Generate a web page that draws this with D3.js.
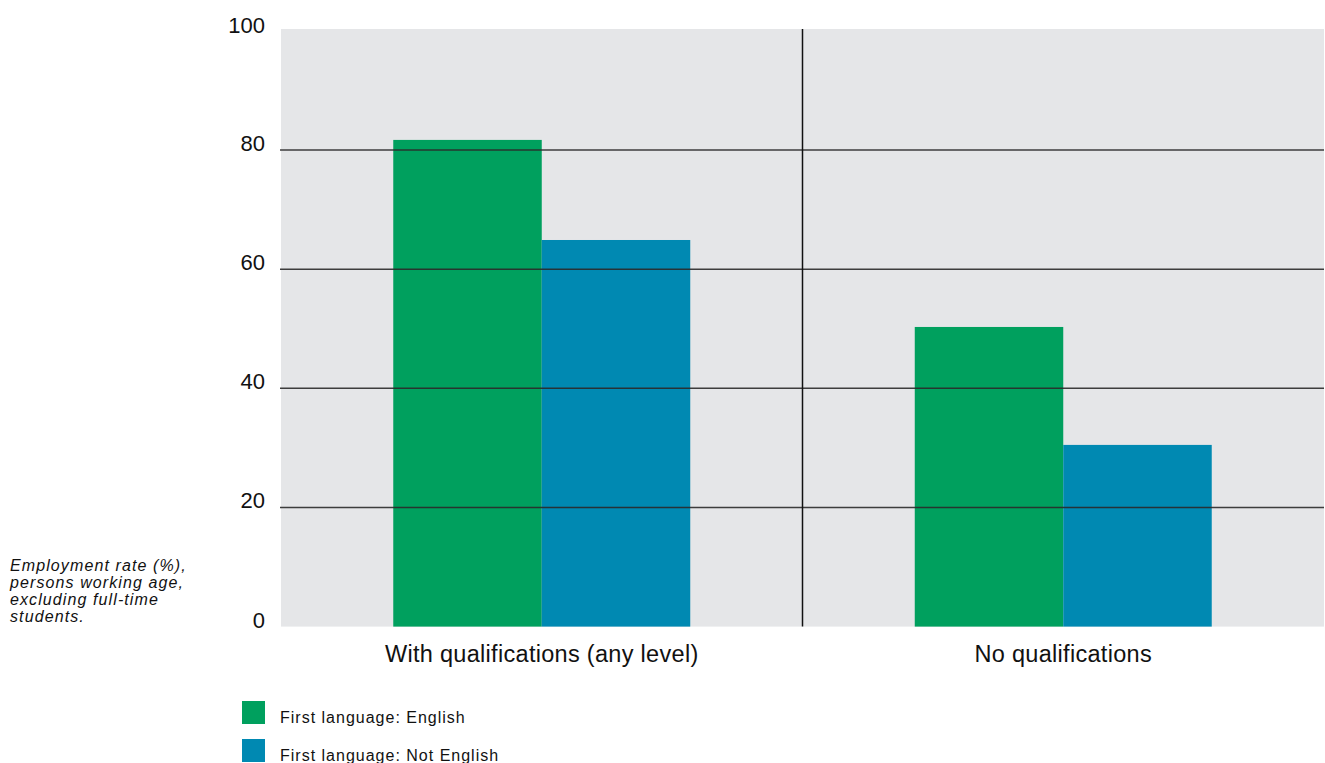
<!DOCTYPE html>
<html>
<head>
<meta charset="utf-8">
<script src="https://cdn.jsdelivr.net/npm/d3@7"></script>
<style>
  html, body { margin: 0; padding: 0; background: #ffffff; }
  svg { display: block; font-family: "Liberation Sans", Arial, Helvetica, sans-serif; }
</style>
</head>
<body>
<svg id="chart" width="1325" height="763"></svg>
<script>
const categories = ["With qualifications (any level)", "No qualifications"];
const seriesNames = ["First language: English", "First language: Not English"];
const englishValues = [81.7, 50.3];
const notEnglishValues = [64.9, 30.5];
const yTicks = [0, 20, 40, 60, 80, 100];
const gridTicks = [20, 40, 60, 80];
const colors = ["#00a05e", "#0089b2"];
const noteLines = ["Employment rate (%),", "persons working age,", "excluding full-time", "students."];

(function () {
const svg = d3.select("#chart");
const plotLeft = 281, plotRight = 1324, plotTop = 30.9, plotBottom = 626.6;

const x0 = d3.scaleBand().domain(categories).range([plotLeft, plotRight]).padding(0);
const x1 = d3.scaleBand().domain(seriesNames).range([0, x0.bandwidth()]).paddingInner(0).paddingOuter(0.756);
const y = d3.scaleLinear().domain([0, 100]).range([plotBottom, plotTop]);

// background
svg.append("rect").attr("x", plotLeft).attr("y", 29).attr("width", plotRight - plotLeft).attr("height", plotBottom - 29).attr("fill", "#e5e6e8");

const data = categories.map((c, i) => ({cat: c, values: [englishValues[i], notEnglishValues[i]]}));

// bars
const groups = svg.append("g").selectAll("g").data(data).join("g")
  .attr("transform", d => `translate(${x0(d.cat)},0)`);
groups.selectAll("rect").data(d => d.values.map((v, j) => ({name: seriesNames[j], v, j}))).join("rect")
  .attr("x", d => x1(d.name))
  .attr("width", x1.bandwidth())
  .attr("y", d => y(d.v))
  .attr("height", d => y(0) - y(d.v))
  .attr("fill", d => colors[d.j]);

// gridlines
svg.append("g").selectAll("line").data(gridTicks).join("line")
  .attr("x1", plotLeft - 1).attr("x2", plotRight)
  .attr("y1", d => y(d)).attr("y2", d => y(d))
  .attr("stroke", "#2a2a2a").attr("stroke-width", 1.6).attr("stroke-opacity", 0.9);

// divider
svg.append("line")
  .attr("x1", x0(categories[1])).attr("x2", x0(categories[1]))
  .attr("y1", 29).attr("y2", plotBottom)
  .attr("stroke", "#111").attr("stroke-width", 1.5);

// y tick labels
svg.append("g").selectAll("text").data(yTicks).join("text")
  .attr("x", 265).attr("y", d => y(d) + 1 + (d === 100 ? 1 : 0))
  .attr("text-anchor", "end")
  .attr("font-size", 22)
  .attr("fill", "#111")
  .text(d => d);

// category labels
svg.append("g").selectAll("text").data(categories).join("text")
  .attr("x", d => x0(d) + x0.bandwidth() / 2)
  .attr("y", 662)
  .attr("text-anchor", "middle")
  .attr("font-size", 23.5)
  .attr("letter-spacing", 0.3)
  .attr("fill", "#111")
  .text(d => d);

// note
svg.append("g").selectAll("text").data(noteLines).join("text")
  .attr("x", 10)
  .attr("y", (d, i) => 571 + i * 17)
  .attr("font-size", 16)
  .attr("letter-spacing", 1.1)
  .attr("font-style", "italic")
  .attr("fill", "#111")
  .text(d => d);

// legend
const leg = svg.append("g").selectAll("g").data(seriesNames).join("g")
  .attr("transform", (d, i) => `translate(242,${701 + i * 38})`);
leg.append("rect").attr("width", 23).attr("height", 23).attr("fill", (d, i) => colors[i]);
leg.append("text").attr("x", 38).attr("y", 22).attr("font-size", 16).attr("letter-spacing", 1).attr("fill", "#111").text(d => d);
})();
</script>
</body>
</html>
